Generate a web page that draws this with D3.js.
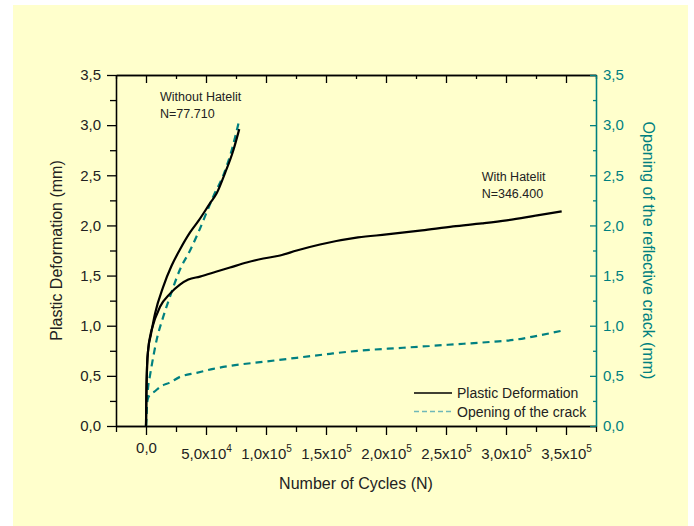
<!DOCTYPE html>
<html>
<head>
<meta charset="utf-8">
<script src="https://cdn.jsdelivr.net/npm/d3@7"></script>
<style>
    body { margin: 0; background: #fff; }
    text { font-family: "Liberation Sans", Arial, sans-serif; }
</style>
</head>
<body>
<div id="chart"></div>
<script>
// data: [cycles, mm]
const withoutPlastic = [[0,0],[300,0.3],[900,0.6],[1900,0.77],[3900,0.9],[7500,1.12],[14400,1.39],[21400,1.6],
    [28300,1.76],[36700,1.93],[44000,2.05],[53300,2.22],[58900,2.32],[65800,2.52],[72800,2.75],[77710,2.96]];
const withoutOpening = [[0,0],[700,0.2],[1700,0.38],[3000,0.48],[4700,0.6],[8900,0.86],[14400,1.09],[20000,1.29],
    [28300,1.56],[36700,1.75],[43600,1.93],[56100,2.29],[64400,2.5],[71400,2.75],[77710,3.05]];
const withPlastic = [[0,0],[300,0.3],[900,0.6],[1900,0.77],[3900,0.92],[4700,0.96],[11700,1.19],[20000,1.32],
    [28300,1.41],[35300,1.46],[45000,1.49],[58900,1.54],[70000,1.58],[83900,1.63],[97800,1.67],[111700,1.7],
    [125600,1.75],[145000,1.81],[176700,1.88],[200600,1.91],[230000,1.95],[256000,1.99],[280000,2.02],
    [300600,2.05],[326000,2.1],[346400,2.14]];
const withOpening = [[0,0],[800,0.22],[1500,0.27],[3300,0.31],[6700,0.34],[13100,0.4],[19400,0.43],[28300,0.49],
    [42200,0.53],[56100,0.57],[70000,0.6],[97800,0.64],[125600,0.68],[153300,0.72],[176700,0.75],[214200,0.78],
    [251500,0.81],[288800,0.84],[307500,0.86],[326200,0.9],[346400,0.95]];

// ticks
const xMajor = [0, 50000, 100000, 150000, 200000, 250000, 300000, 350000];
const xMinor = [-25000, 25000, 75000, 125000, 175000, 225000, 275000, 325000, 375000];
const yMajor = [0, 0.5, 1, 1.5, 2, 2.5, 3, 3.5];
const yMinor = [0.25, 0.75, 1.25, 1.75, 2.25, 2.75, 3.25];

// text
const annotations = [
    {lines: ['Without Hatelit', 'N=77.710'], at: [11700, 3.24]},
    {lines: ['With Hatelit', 'N=346.400'], at: [279700, 2.44]}
];
const legendItems = [
    {label: 'Plastic Deformation', dashed: false},
    {label: 'Opening of the crack', dashed: true}
];

const teal = '#008080';
const W = 694, H = 526;
const plot = {left: 116, right: 596, top: 75, bottom: 426};

const svg = d3.select('#chart').append('svg')
    .attr('width', W)
    .attr('height', H);

// pale yellow panel
svg.append('rect')
    .attr('x', 13).attr('y', 5)
    .attr('width', 675).attr('height', H - 5)
    .attr('fill', '#ffffcc');

const x = d3.scaleLinear().domain([-25000, 375000]).range([plot.left, plot.right]);
const y = d3.scaleLinear().domain([0, 3.5]).range([plot.bottom, plot.top]);

const comma = v => d3.format('.1f')(v).replace('.', ',');

// helper to style an axis group
function styleAxis(g, colour) {
    g.select('.domain').attr('stroke', colour).attr('stroke-width', 1.3);
    g.selectAll('.tick line').attr('stroke', colour).attr('stroke-width', 1.3);
    g.selectAll('.tick text')
        .attr('fill', colour === '#000' ? '#222' : colour)
        .attr('font-size', 15)
        .attr('font-family', '"Liberation Sans", Arial, sans-serif');
}

// left axis
svg.append('g')
    .attr('transform', `translate(${plot.left},0)`)
    .call(d3.axisLeft(y).tickValues(yMinor).tickSize(6).tickSizeOuter(0).tickFormat(''))
    .call(g => styleAxis(g, '#000'));
svg.append('g')
    .attr('transform', `translate(${plot.left},0)`)
    .call(d3.axisLeft(y).tickValues(yMajor).tickSize(9).tickSizeOuter(0).tickPadding(6).tickFormat(comma))
    .call(g => styleAxis(g, '#000'));

// top axis, ticks pointing in
svg.append('g')
    .attr('transform', `translate(0,${plot.top})`)
    .call(d3.axisBottom(x).tickValues(xMinor).tickSize(4).tickSizeOuter(0).tickFormat(''))
    .call(g => styleAxis(g, '#000'));
svg.append('g')
    .attr('transform', `translate(0,${plot.top})`)
    .call(d3.axisBottom(x).tickValues(xMajor).tickSize(8).tickSizeOuter(0).tickFormat(''))
    .call(g => styleAxis(g, '#000'));

// bottom axis
svg.append('g')
    .attr('transform', `translate(0,${plot.bottom})`)
    .call(d3.axisBottom(x).tickValues(xMinor).tickSize(6).tickSizeOuter(0).tickFormat(''))
    .call(g => styleAxis(g, '#000'));
const xAxis = svg.append('g')
    .attr('transform', `translate(0,${plot.bottom})`)
    .call(d3.axisBottom(x).tickValues(xMajor).tickSize(9).tickSizeOuter(0).tickFormat(''))
    .call(g => styleAxis(g, '#000'));

// x tick labels with powers of ten
xAxis.selectAll('.tick').each(function(v) {
    const t = d3.select(this).append('text')
        .attr('text-anchor', 'middle')
        .attr('fill', '#222')
        .attr('font-size', 15);
    if (v === 0) {
        t.attr('y', 27).text('0,0');
        return;
    }
    const exp = Math.floor(Math.log10(v));
    t.attr('y', 33).text(comma(v / Math.pow(10, exp)) + 'x10');
    t.append('tspan').attr('dy', -7).attr('font-size', 10).text(exp);
});

// right axis (teal), ticks pointing in
svg.append('g')
    .attr('transform', `translate(${plot.right},0)`)
    .call(d3.axisRight(y).tickValues(yMinor).tickSize(-3).tickSizeOuter(0).tickFormat(''))
    .call(g => styleAxis(g, teal));
svg.append('g')
    .attr('transform', `translate(${plot.right},0)`)
    .call(d3.axisRight(y).tickValues(yMajor).tickSize(-6).tickSizeOuter(0).tickPadding(7).tickFormat(comma))
    .call(g => styleAxis(g, teal));

// axis titles
svg.append('text')
    .attr('x', 356).attr('y', 489)
    .attr('text-anchor', 'middle')
    .attr('font-size', 16).attr('fill', '#222')
    .text('Number of Cycles (N)');
svg.append('text')
    .attr('transform', `translate(62,${(plot.top + plot.bottom) / 2}) rotate(-90)`)
    .attr('text-anchor', 'middle')
    .attr('font-size', 16).attr('fill', '#222')
    .text('Plastic Deformation (mm)');
svg.append('text')
    .attr('transform', `translate(643,${(plot.top + plot.bottom) / 2}) rotate(90)`)
    .attr('text-anchor', 'middle')
    .attr('font-size', 16).attr('fill', teal)
    .text('Opening of the reflective crack (mm)');

// curves
const line = d3.line()
    .x(d => x(d[0]))
    .y(d => y(d[1]))
    .curve(d3.curveMonotoneX);

const curves = [
    {data: withoutOpening, dashed: true},
    {data: withOpening, dashed: true},
    {data: withoutPlastic, dashed: false},
    {data: withPlastic, dashed: false}
];
svg.append('g').selectAll('path')
    .data(curves)
    .enter()
    .append('path')
        .attr('d', d => line(d.data))
        .attr('fill', 'none')
        .attr('stroke', d => d.dashed ? teal : '#000')
        .attr('stroke-width', 2.2)
        .attr('stroke-dasharray', d => d.dashed ? '7,5' : null);

// annotations
annotations.forEach(a => {
    svg.append('text')
        .attr('x', x(a.at[0]))
        .attr('y', y(a.at[1]))
        .attr('font-size', 12.5).attr('fill', '#222')
        .selectAll('tspan')
        .data(a.lines)
        .enter()
        .append('tspan')
            .attr('x', x(a.at[0]))
            .attr('dy', (d, i) => i === 0 ? 0 : 17)
            .text(d => d);
});

// legend
const legend = svg.append('g').attr('transform', 'translate(414,393)');
legendItems.forEach((item, i) => {
    legend.append('line')
        .attr('x1', 0).attr('x2', 38)
        .attr('y1', i * 18.5).attr('y2', i * 18.5)
        .attr('stroke', item.dashed ? '#6fb8b8' : '#000')
        .attr('stroke-width', item.dashed ? 1.5 : 1.3)
        .attr('stroke-dasharray', item.dashed ? '5,3' : null);
    legend.append('text')
        .attr('x', 43).attr('y', i * 18.5 + 5)
        .attr('font-size', 14).attr('fill', '#222')
        .text(item.label);
});
</script>
</body>
</html>
